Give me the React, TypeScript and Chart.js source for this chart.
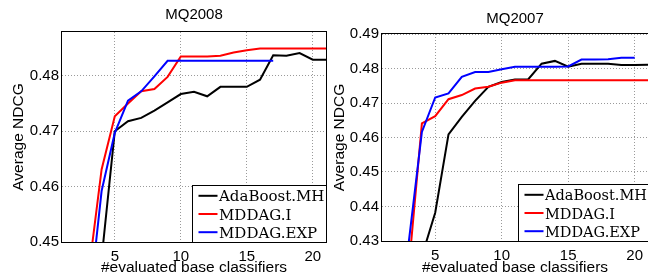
import React, { useEffect, useRef } from "react";
import { Chart, registerables } from "chart.js";

Chart.register(...registerables);

// ---------- data ----------
const seriesLabels = ["AdaBoost.MH", "MDDAG.I", "MDDAG.EXP"];
const seriesColors = ["#000000", "#ff0000", "#0000ff"];

const xTicks = [5, 10, 15, 20];

// MQ2008 (x = 3 .. 21)
const x08 = [3, 4, 5, 6, 7, 8, 9, 10, 11, 12, 13, 14, 15, 16, 17, 18, 19, 20, 21];
const ada08 = [0.42, 0.447, 0.47, 0.4718, 0.4724, 0.4737, 0.4752, 0.4767, 0.4771, 0.4763, 0.478, 0.478, 0.478, 0.4793, 0.4837, 0.4836, 0.4841, 0.4829, 0.4829];
const mddagI08 = [0.4441, 0.4631, 0.4727, 0.475, 0.4772, 0.4776, 0.4798, 0.4835, 0.4835, 0.4835, 0.4836, 0.4842, 0.4846, 0.4849, 0.4849, 0.4849, 0.4849, 0.4849, 0.4849];
const mddagExp08 = [0.4373, 0.4592, 0.4697, 0.4755, 0.4772, 0.4799, 0.4827, 0.4827, 0.4827, 0.4827, 0.4827, 0.4827, 0.4827, 0.4827, 0.4827];
const yTicks08 = [0.45, 0.46, 0.47, 0.48];

// MQ2007 (x = 3 .. 21)
const x07 = [3, 4, 5, 6, 7, 8, 9, 10, 11, 12, 13, 14, 15, 16, 17, 18, 19, 20, 21];
const ada07 = [0.41, 0.4256, 0.4382, 0.4609, 0.466, 0.4706, 0.4747, 0.4761, 0.4768, 0.4769, 0.4814, 0.4822, 0.4805, 0.4814, 0.4814, 0.4814, 0.481, 0.481, 0.4811];
const mddagI07 = [0.4215, 0.4641, 0.4662, 0.4711, 0.4723, 0.4742, 0.4747, 0.4759, 0.4766, 0.4766, 0.4766, 0.4766, 0.4766, 0.4766, 0.4766, 0.4766, 0.4766, 0.4766, 0.4766];
const mddagExp07 = [0.4293, 0.4616, 0.4716, 0.4728, 0.4776, 0.479, 0.479, 0.4798, 0.4805, 0.4805, 0.4805, 0.4805, 0.4806, 0.4826, 0.4826, 0.4827, 0.4831, 0.4831];
const yTicks07 = [0.43, 0.44, 0.45, 0.46, 0.47, 0.48, 0.49];

// ---------- styling ----------
const SANS = '"Liberation Sans", Arial, Helvetica, sans-serif';
const SERIF = '"DejaVu Serif", serif';

type Panel = {
  title: string;
  titleY: number;
  xs: number[];
  series: number[][];
  yMin: number;
  yMax: number;
  yTicks: number[];
  canvasLeft: number;
  canvasWidth: number;
  padTop: number;
  padRight: number;
  yWidth: number;
  xHeight: number;
  yTitlePad: number;
  legendSize: number;
};

function makePlugin(p: Panel) {
  return {
    id: "frameTitleLegend",
    afterDraw(chart: any) {
      const { ctx, chartArea: a } = chart;
      ctx.save();
      // frame
      ctx.strokeStyle = "#000";
      ctx.lineWidth = 1;
      ctx.strokeRect(Math.round(a.left) - 0.5, Math.round(a.top) - 0.5, Math.round(a.right) - Math.round(a.left) + 1, Math.round(a.bottom) - Math.round(a.top) + 1);
      // title
      ctx.fillStyle = "#000";
      ctx.font = `15px ${SANS}`;
      ctx.textAlign = "center";
      ctx.textBaseline = "alphabetic";
      ctx.fillText(p.title, (a.left + a.right) / 2, p.titleY);
      // legend
      ctx.font = `${p.legendSize}px ${SERIF}`;
      const tw = Math.max(...seriesLabels.map((l) => ctx.measureText(l).width));
      const padL = 6, lineLen = 19, gap = 1.5, padR = 2, h = 57.5, rowTop = 10.3, rowGap = 18.2;
      const w = padL + lineLen + gap + tw + padR;
      const x0 = Math.round(a.right - w) + 0.5;
      const y0 = Math.round(a.bottom - h) + 0.5;
      ctx.fillStyle = "#fff";
      ctx.fillRect(x0, y0, Math.round(a.right) - x0, Math.round(a.bottom) - y0);
      ctx.strokeStyle = "#000";
      ctx.lineWidth = 1;
      ctx.strokeRect(x0, y0, Math.round(a.right) + 0.5 - x0, Math.round(a.bottom) + 0.5 - y0);
      ctx.textAlign = "left";
      seriesLabels.forEach((label, i) => {
        const yc = y0 + rowTop + i * rowGap;
        ctx.strokeStyle = seriesColors[i];
        ctx.lineWidth = 2;
        ctx.beginPath();
        ctx.moveTo(x0 + padL, yc);
        ctx.lineTo(x0 + padL + lineLen, yc);
        ctx.stroke();
        ctx.fillStyle = "#000";
        ctx.fillText(label, x0 + padL + lineLen + gap, yc + 5.5);
      });
      ctx.restore();
    },
  };
}

function makeConfig(p: Panel): any {
  const tickFont = { family: SANS, size: 15 };
  const titleFont = { family: SANS, size: 15.5 };
  return {
    type: "line",
    data: {
      datasets: p.series.map((vals, i) => ({
        label: seriesLabels[i],
        data: vals.map((v, j) => ({ x: p.xs[j], y: v })),
        borderColor: seriesColors[i],
        backgroundColor: seriesColors[i],
        borderWidth: 2,
        pointRadius: 0,
        tension: 0,
        fill: false,
        order: 3 - i,
      })),
    },
    options: {
      animation: false,
      responsive: false,
      maintainAspectRatio: false,
      events: [],
      layout: { padding: { left: 0, right: p.padRight, top: p.padTop, bottom: 0 } },
      plugins: { legend: { display: false }, tooltip: { enabled: false }, title: { display: false } },
      scales: {
        x: {
          type: "linear",
          min: 1,
          max: 21,
          afterBuildTicks: (s: any) => {
            s.ticks = xTicks.map((v) => ({ value: v }));
          },
          afterFit: (s: any) => {
            s.height = p.xHeight;
          },
          ticks: { padding: 6, font: tickFont, color: "#000", maxRotation: 0, autoSkip: false, callback: (v: any) => String(v) },
          grid: { color: "#9a9a9a", lineWidth: 1, drawTicks: false },
          border: { display: false, dash: [1, 2] },
          title: { display: true, text: "#evaluated base classifiers", font: titleFont, color: "#000", padding: { top: 0, bottom: -1 } },
        },
        y: {
          type: "linear",
          min: p.yMin,
          max: p.yMax,
          afterBuildTicks: (s: any) => {
            s.ticks = p.yTicks.map((v) => ({ value: v }));
          },
          afterFit: (s: any) => {
            s.width = p.yWidth;
          },
          ticks: { padding: 3, font: tickFont, color: "#000", autoSkip: false, callback: (v: any) => Number(v).toFixed(2) },
          grid: { color: "#9a9a9a", lineWidth: 1, drawTicks: false },
          border: { display: false, dash: [1, 2] },
          title: { display: true, text: "Average NDCG", font: titleFont, color: "#000", padding: { top: p.yTitlePad, bottom: 0 } },
        },
      },
    },
    plugins: [makePlugin(p)],
  };
}

const panels: Panel[] = [
  {
    title: "MQ2008",
    titleY: 19,
    xs: x08,
    series: [ada08, mddagI08, mddagExp08],
    yMin: 0.45,
    yMax: 0.4879,
    yTicks: yTicks08,
    canvasLeft: 0,
    canvasWidth: 332,
    padTop: 32,
    padRight: 6,
    yWidth: 62,
    xHeight: 34,
    yTitlePad: 9.5,
    legendSize: 15,
  },
  {
    title: "MQ2007",
    titleY: 23,
    xs: x07,
    series: [ada07, mddagI07, mddagExp07],
    yMin: 0.43,
    yMax: 0.49,
    yTicks: yTicks07,
    canvasLeft: 326,
    canvasWidth: 330,
    padTop: 34,
    padRight: 8,
    yWidth: 56,
    xHeight: 35,
    yTitlePad: 4,
    legendSize: 14.5,
  },
];

function Panel({ p }: { p: Panel }) {
  const ref = useRef<HTMLCanvasElement | null>(null);
  useEffect(() => {
    if (!ref.current) return;
    const chart = new Chart(ref.current, makeConfig(p));
    return () => chart.destroy();
  }, [p]);
  return (
    <canvas
      ref={ref}
      width={p.canvasWidth}
      height={276}
      style={{ position: "absolute", left: p.canvasLeft, top: 0, width: p.canvasWidth, height: 276 }}
    />
  );
}

export default function App() {
  return (
    <div style={{ position: "fixed", left: 0, top: 0, width: 648, height: 276, overflow: "hidden", background: "#fff" }}>
      {panels.map((p, i) => (
        <Panel key={i} p={p} />
      ))}
    </div>
  );
}
